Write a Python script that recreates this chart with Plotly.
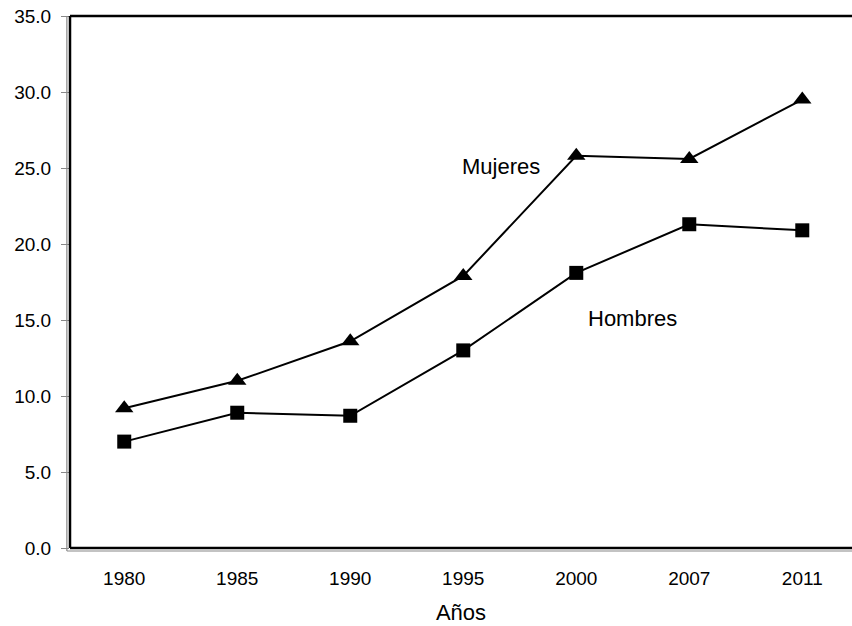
import plotly.graph_objects as go

years = ["1980", "1985", "1990", "1995", "2000", "2007", "2011"]
mujeres = [9.2, 11.0, 13.6, 17.9, 25.8, 25.6, 29.5]
hombres = [7.0, 8.9, 8.7, 13.0, 18.1, 21.3, 20.9]
y_ticks = [0, 5, 10, 15, 20, 25, 30, 35]

font = "Liberation Sans, Arial, sans-serif"

fig = go.Figure()
fig.add_trace(go.Scatter(x=years, y=mujeres, mode="lines+markers", name="Mujeres",
                         line=dict(color="black", width=2),
                         marker=dict(symbol="triangle-up", size=16, color="black")))
fig.add_trace(go.Scatter(x=years, y=hombres, mode="lines+markers", name="Hombres",
                         line=dict(color="black", width=2),
                         marker=dict(symbol="square", size=14, color="black")))

fig.update_layout(
    width=852, height=626,
    margin=dict(l=70, r=0, t=16, b=78),
    paper_bgcolor="white", plot_bgcolor="white",
    showlegend=False,
    font=dict(family=font, size=19, color="black"),
    xaxis=dict(type="category", range=[-0.48, 6.44], showgrid=False, zeroline=False,
               showline=False, ticks="", tickfont=dict(size=19), ticklabelstandoff=17,
               title=dict(text="Años", font=dict(size=22), standoff=16)),
    yaxis=dict(range=[0, 35], tickvals=y_ticks, tickformat=".1f", showgrid=False,
               zeroline=False, showline=False, ticks="outside", ticklen=8,
               tickcolor="#888888", tickwidth=1, tickfont=dict(size=19),
               ticklabelstandoff=6),
    annotations=[
        dict(x=0.551, y=0.718, xref="paper", yref="paper", text="Mujeres", showarrow=False,
             xanchor="center", yanchor="middle", font=dict(size=22)),
        dict(x=0.719, y=0.432, xref="paper", yref="paper", text="Hombres", showarrow=False,
             xanchor="center", yanchor="middle", font=dict(size=22)),
    ],
    shapes=[
        dict(type="line", xref="paper", yref="paper", x0=0, x1=0, y0=0, y1=1,
             line=dict(color="black", width=2.5)),
        dict(type="line", xref="paper", yref="paper", x0=0, x1=1.01, y0=1, y1=1,
             line=dict(color="black", width=2.5)),
        dict(type="line", xref="paper", yref="paper", x0=0, x1=1.01, y0=0, y1=0,
             line=dict(color="black", width=2.5)),
        dict(type="line", xref="paper", yref="paper", x0=-0.004, x1=-0.004, y0=-0.0056, y1=1,
             line=dict(color="#888888", width=1.2)),
        dict(type="line", xref="paper", yref="paper", x0=-0.004, x1=1.01, y0=-0.0056, y1=-0.0056,
             line=dict(color="#888888", width=1.2)),
    ],
)

fig.write_html("out.html", config={"displayModeBar": False},
               post_script="document.body.style.margin='0';")
